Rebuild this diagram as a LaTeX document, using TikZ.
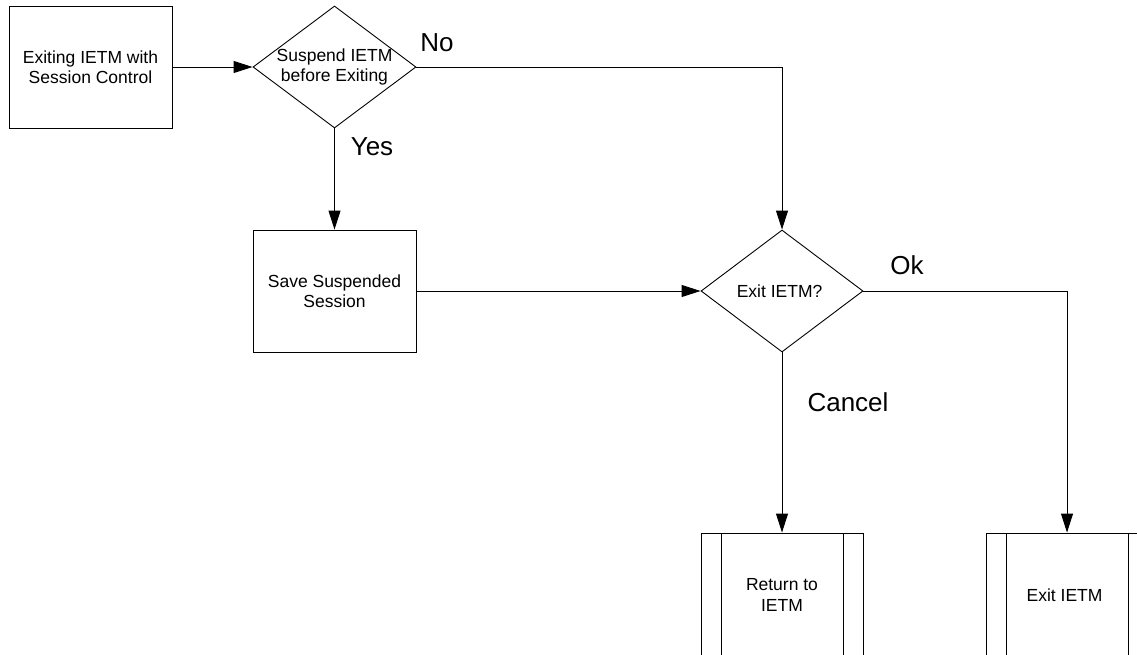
\documentclass[tikz,border=0pt]{standalone}
\usepackage{fontspec}
\setmainfont{Liberation Sans}
\usetikzlibrary{shapes.geometric,arrows.meta}
\begin{document}
\begin{tikzpicture}[ x=1pt, y=-1pt,
    box/.style={ draw, line width=0.9pt, minimum width=163pt, minimum height=122pt, inner sep=0pt, align=center, font=\fontsize{17.5}{20.5}\selectfont },
    decision/.style={ box, diamond, aspect=1.34 },
    subproc/.style={ box, path picture={
      \draw [ line width=0.9pt ] ([xshift=20pt]path picture bounding box.north west)--([xshift=20pt]path picture bounding box.south west);
      \draw [ line width=0.9pt ] ([xshift=-20pt]path picture bounding box.north east)--([xshift=-20pt]path picture bounding box.south east); } },
    flow/.style={ line width=0.9pt, -{Triangle[length=19pt,width=12pt]} },
    lbl/.style={ font=\fontsize{26}{30}\selectfont, inner sep=0pt } ]
  \useasboundingbox (0,0) rectangle (1137,655);
  \clip (0,0) rectangle (1137,655);
  \node (start) [ box ] at (90.5,67) { Exiting IETM with\\Session Control };
  \node (suspend) [ decision, label={[align=center,font=\fontsize{17.5}{20.5}\selectfont]center:Suspend IETM\\before Exiting} ] at (334.5,67) {};
  \node (save) [ box ] at (334.5,291) { Save Suspended\\Session };
  \node (exitq) [ decision, minimum width=162pt ] at (782,291) { Exit IETM? };
  \node (return) [ subproc, minimum width=162pt, minimum height=124pt ] at (782,595) { Return to\\IETM };
  \node (exit) [ subproc, minimum width=162pt, minimum height=124pt ] at (1067,595) { Exit IETM };
  \node (no) [ lbl ] at (437,43) { No };
  \node (yes) [ lbl ] at (372,147) { Yes };
  \node (ok) [ lbl ] at (907,265) { Ok };
  \node (cancel) [ lbl ] at (848,402) { Cancel };
  \draw [ flow ] (start)--(suspend);
  \draw [ flow ] (suspend.east) -| (exitq.north);
  \draw [ flow ] (suspend)--(save);
  \draw [ flow ] (save)--(exitq);
  \draw [ flow ] (exitq.east) -| (exit.north);
  \draw [ flow ] (exitq)--(return);
\end{tikzpicture}
\end{document}
